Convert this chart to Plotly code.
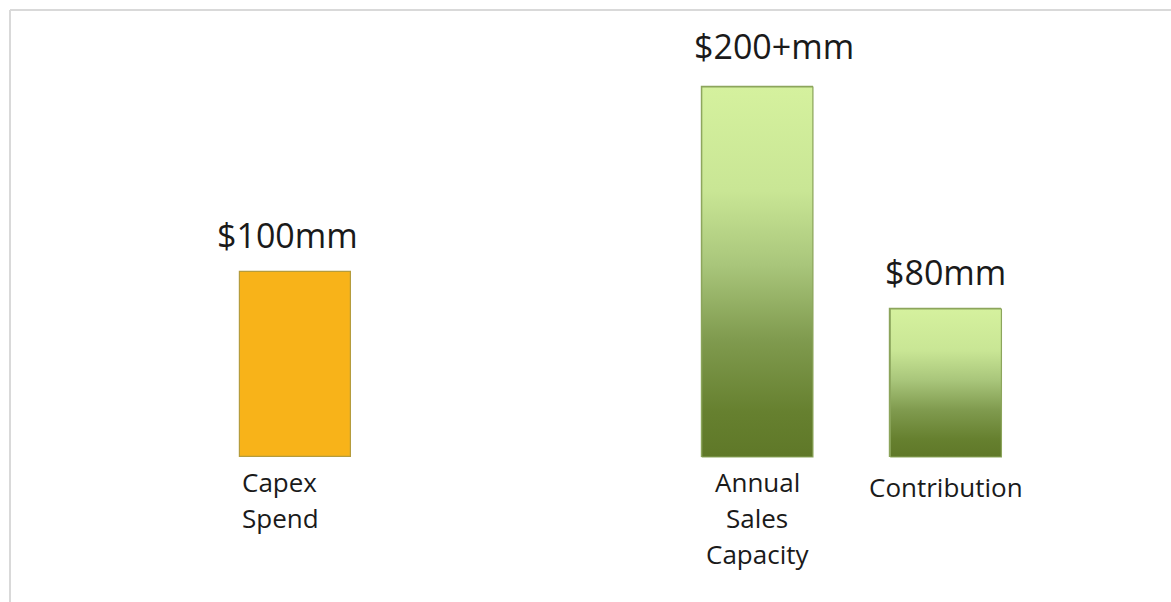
import plotly.graph_objects as go

# Chart data
categories = ["Capex<br>Spend", "Annual<br>Sales<br>Capacity", "Contribution"]
positions = [0.0, 2.45, 3.45]          # horizontal slot of each bar
values = [100, 200, 80]                 # $mm
value_labels = ["$100mm", "$200+mm", "$80mm"]

BAR_W = 0.59
FONT = "Open Sans, Segoe UI, Calibri, sans-serif"
ORANGE = "#f8b319"
ORANGE_EDGE = "#b59c3c"
GREEN_EDGE = "#8ca55c"
GREEN_SCALE = [
    [0.0, "#5f7828"],
    [0.12, "#66802f"],
    [0.32, "#809b4f"],
    [0.52, "#a9c67b"],
    [0.72, "#c9e695"],
    [1.0, "#d5f19e"],
]

fig = go.Figure()

# Base bars
fig.add_trace(go.Bar(
    x=positions, y=values, width=BAR_W,
    marker=dict(color=[ORANGE, "#a9c67b", "#a9c67b"],
                line=dict(color=[ORANGE_EDGE, GREEN_EDGE, GREEN_EDGE], width=1.2)),
    hoverinfo="skip", showlegend=False,
))

# Vertical gradient fill over the green bars
for xc, v in zip(positions[1:], values[1:]):
    x0, x1 = xc - BAR_W / 2, xc + BAR_W / 2
    fig.add_trace(go.Scatter(
        x=[x0, x1, x1, x0, x0], y=[0, 0, v, v, 0],
        mode="lines", fill="toself",
        fillgradient=dict(type="vertical", colorscale=GREEN_SCALE),
        line=dict(color=GREEN_EDGE, width=1.2),
        hoverinfo="skip", showlegend=False,
    ))

# Value labels above bars
value_x_shift = [-8, 17, 0]
value_y_shift = [12, 16, 12]
for xc, v, lab, dx, dy in zip(positions, values, value_labels, value_x_shift, value_y_shift):
    fig.add_annotation(
        x=xc, y=v, text=lab, showarrow=False, xanchor="center", yanchor="bottom",
        yshift=dy, xshift=dx, font=dict(family=FONT, size=34, color="#1a1a1a"),
    )

# Category labels under bars, one annotation per line for even spacing
cat_anchor = ["left", "center", "center"]
cat_x = [positions[0] - BAR_W / 2, positions[1], positions[2]]
first_line_offset = [25, 25, 30]
LINE_STEP = 36
for xc, lab, anc, off in zip(cat_x, categories, cat_anchor, first_line_offset):
    for k, line in enumerate(lab.split("<br>")):
        fig.add_annotation(
            x=xc, y=0, text=line, showarrow=False, xanchor=anc, yanchor="middle",
            yshift=-(off + k * LINE_STEP), xshift=0,
            font=dict(family=FONT, size=26, color="#1a1a1a"),
        )

# Light frame on top and left
fig.add_shape(type="line", xref="paper", yref="paper", x0=10 / 1171, x1=1,
              y0=1 - 10 / 602, y1=1 - 10 / 602, line=dict(color="#d9d9d9", width=2))
fig.add_shape(type="line", xref="paper", yref="paper", x0=10 / 1171, x1=10 / 1171,
              y0=0, y1=1 - 10 / 602, line=dict(color="#d9d9d9", width=2))

unit = 188.5
px_per_val = 1.85
fig.update_layout(
    width=1171, height=602,
    margin=dict(l=0, r=0, t=0, b=0),
    paper_bgcolor="white", plot_bgcolor="white",
    xaxis=dict(range=[-295.5 / unit, (1171 - 295.5) / unit], visible=False, fixedrange=True),
    yaxis=dict(range=[-(602 - 457) / px_per_val, 457 / px_per_val], visible=False, fixedrange=True),
    bargap=0,
)

fig.write_html("out.html")
